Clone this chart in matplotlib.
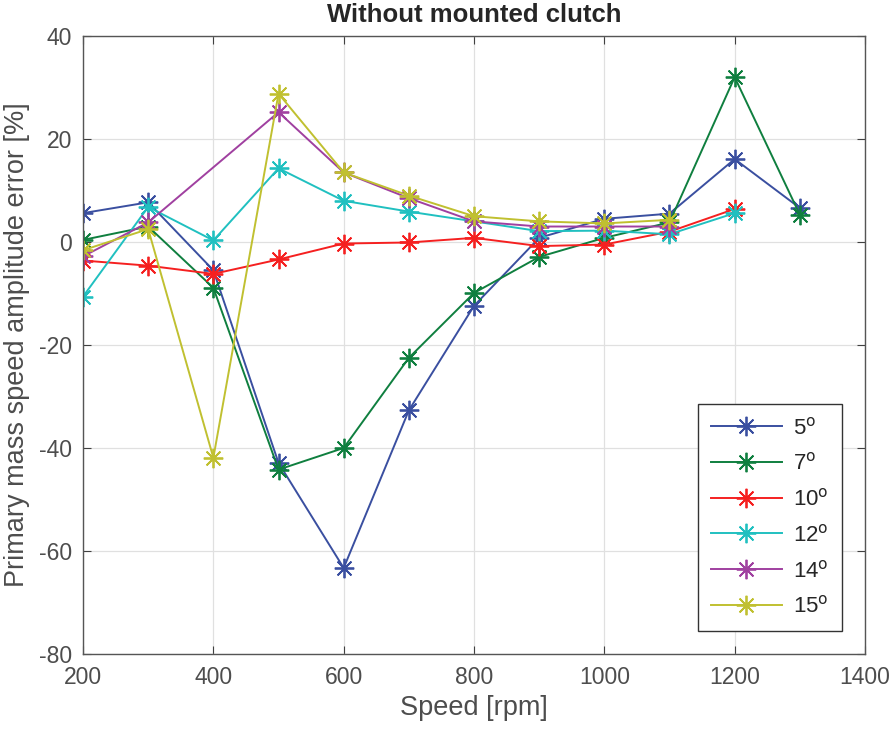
import matplotlib
matplotlib.use("Agg")
import matplotlib.pyplot as plt
import numpy as np

plt.rcParams['font.family'] = ['Liberation Sans', 'DejaVu Sans']
plt.rcParams['axes.unicode_minus'] = False

################################ Data #########################################
speed = [200, 300, 400, 500, 600, 700, 800, 900, 1000, 1100, 1200, 1300]

err_5 = [5.6, 7.7, -5.5, -42.9, -63.3, -32.7, -12.4, 0.8, 4.5, 5.5, 16.1, 6.6]
err_7 = [0.4, 3.0, -8.9, -44.2, -40.0, -22.5, -9.9, -2.9, 0.8, 3.8, 32.0, 5.3]
err_10 = [-3.6, -4.6, -6.2, -3.4, -0.3, -0.1, 0.8, -0.8, -0.5, 2.0, 6.4]
err_12 = [-10.6, 6.8, 0.3, 14.3, 8.0, 5.9, 4.0, 2.1, 2.2, 1.5, 5.6]
speed_14 = [200, 300, 500, 600, 700, 800, 900, 1000, 1100]
err_14 = [-2.8, 3.8, 25.2, 13.5, 8.5, 4.0, 3.0, 3.0, 3.0]
err_15 = [-1.6, 2.5, -41.9, 28.8, 13.5, 9.0, 5.0, 4.0, 3.6, 4.3]

labels = ['5$^\\mathrm{o}$', '7$^\\mathrm{o}$', '10$^\\mathrm{o}$',
          '12$^\\mathrm{o}$', '14$^\\mathrm{o}$', '15$^\\mathrm{o}$']
colors = ['#3a4fa0', '#0f7f3f', '#f52020', '#20c0c0', '#a040a0', '#c0c030']

series = [
    (speed, err_5),
    (speed, err_7),
    (speed[:11], err_10),
    (speed[:11], err_12),
    (speed_14, err_14),
    (speed[:10], err_15),
]

################################ Plotting #####################################
fig = plt.figure(figsize=(8.91, 7.34), dpi=100)
ax = fig.add_axes([0.0932, 0.109, 0.8776, 0.842])

for (xs, ys), lab, col in zip(series, labels, colors):
    ax.plot(xs, ys, color=col, marker=(8, 2, 0), markersize=14,
            markeredgewidth=1.3, linewidth=1.4, label=lab)

ax.set_xlim(200, 1400)
ax.set_ylim(-80, 40)
ax.set_xticks(np.arange(200, 1401, 200))
ax.set_yticks(np.arange(-80, 41, 20))
ax.grid(True, color='#e0e0e0', linewidth=0.9)
ax.set_axisbelow(True)
ax.tick_params(direction='in', length=6, top=True, right=True,
               labelsize=16.5, colors='#404040', labelcolor='#4d4d4d')
ax.tick_params(axis='x', pad=9)
ax.tick_params(axis='y', pad=8)
for sp in ax.spines.values():
    sp.set_color('#555555')
    sp.set_linewidth(1.0)

ax.set_xlabel('Speed [rpm]', fontsize=19.5, color='#4d4d4d', labelpad=4)
ax.set_ylabel('Primary mass speed amplitude error [%]', fontsize=19.5,
              color='#4d4d4d', labelpad=6)
ax.set_title('Without mounted clutch', fontsize=18.5, fontweight='bold',
             color='#262626', pad=10)

leg = ax.legend(loc='lower right', bbox_to_anchor=(0.9706, 0.037),
                borderaxespad=0, fontsize=16, fancybox=False, edgecolor='#333333',
                framealpha=1, handlelength=3.2, handletextpad=0.5,
                labelspacing=0.62, borderpad=0.6)
leg.get_frame().set_linewidth(1.0)
for t in leg.get_texts():
    t.set_color('#262626')

fig.savefig('out.png', dpi=100)
